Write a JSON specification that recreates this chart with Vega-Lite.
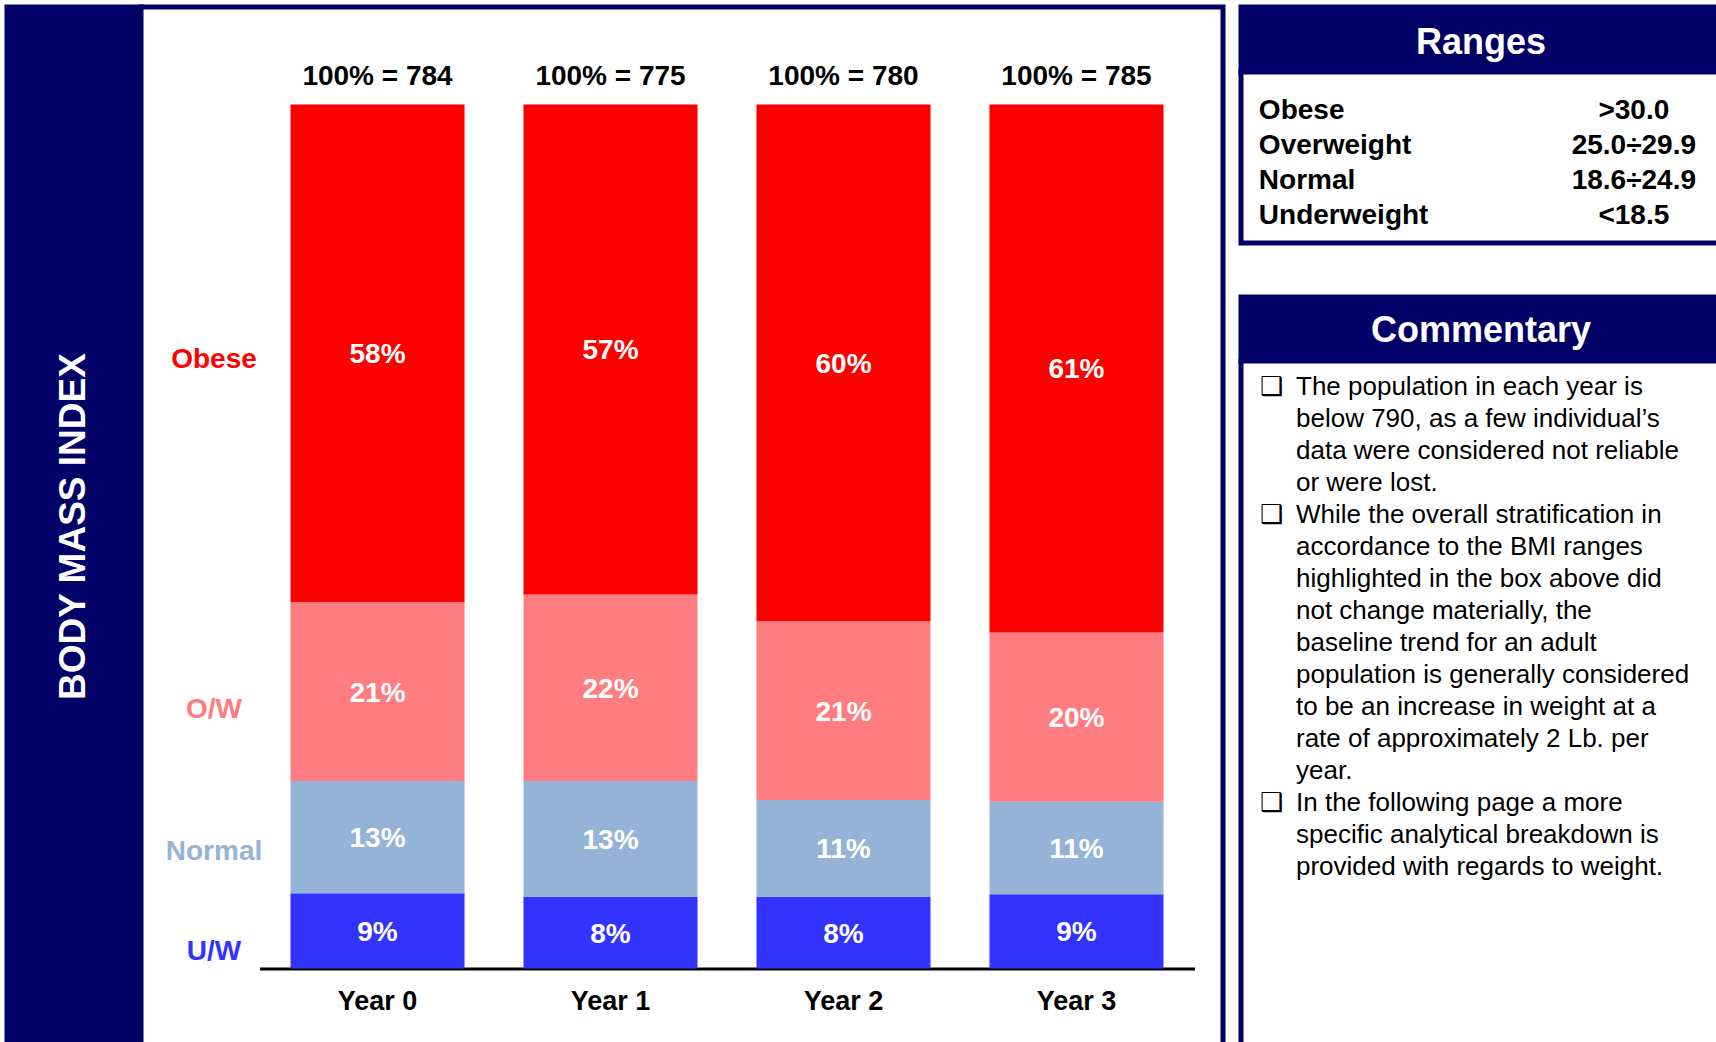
{
  "$schema": "https://vega.github.io/schema/vega-lite/v6.json",
  "background": "white",
  "padding": {"left": 4, "top": 4, "right": 0, "bottom": 0},
  "bounds": "full",
  "spacing": 12,
  "config": {"font": "Liberation Sans", "view": {"stroke": null}},
  "hconcat": [
    {
      "bounds": "flush",
      "spacing": 0,
      "hconcat": [
        {
          "width": 134,
          "height": 1039,
          "view": {"fill": "#000066", "stroke": "#000066", "strokeWidth": 5},
          "data": {"values": [{"title": "BODY MASS INDEX"}]},
          "mark": {"type": "text", "angle": 270, "color": "white", "fontSize": 37, "fontWeight": "bold", "align": "center", "baseline": "middle", "font": "Liberation Sans"},
          "encoding": {"text": {"field": "title", "type": "nominal"}}
        },
        {
          "width": 1082,
          "height": 1039,
          "view": {"fill": "white", "stroke": "#000066", "strokeWidth": 5},
          "data": {"values": [
            {"year": "Year 0", "cat": "U/W", "bmi_min": 0, "share": 0.087},
            {"year": "Year 0", "cat": "Normal", "bmi_min": 18.6, "share": 0.130},
            {"year": "Year 0", "cat": "O/W", "bmi_min": 25.0, "share": 0.207},
            {"year": "Year 0", "cat": "Obese", "bmi_min": 30.0, "share": 0.576},
            {"year": "Year 1", "cat": "U/W", "bmi_min": 0, "share": 0.083},
            {"year": "Year 1", "cat": "Normal", "bmi_min": 18.6, "share": 0.134},
            {"year": "Year 1", "cat": "O/W", "bmi_min": 25.0, "share": 0.216},
            {"year": "Year 1", "cat": "Obese", "bmi_min": 30.0, "share": 0.567},
            {"year": "Year 2", "cat": "U/W", "bmi_min": 0, "share": 0.083},
            {"year": "Year 2", "cat": "Normal", "bmi_min": 18.6, "share": 0.112},
            {"year": "Year 2", "cat": "O/W", "bmi_min": 25.0, "share": 0.207},
            {"year": "Year 2", "cat": "Obese", "bmi_min": 30.0, "share": 0.598},
            {"year": "Year 3", "cat": "U/W", "bmi_min": 0, "share": 0.086},
            {"year": "Year 3", "cat": "Normal", "bmi_min": 18.6, "share": 0.107},
            {"year": "Year 3", "cat": "O/W", "bmi_min": 25.0, "share": 0.196},
            {"year": "Year 3", "cat": "Obese", "bmi_min": 30.0, "share": 0.611}
          ]},
          "encoding": {
            "x": {
              "field": "year", "type": "nominal",
              "scale": {"type": "band", "range": [118.5, 1053.5], "paddingInner": 0.253, "paddingOuter": 0.133},
              "axis": {"orient": "bottom", "offset": -77.5, "title": null, "domainColor": "black", "domainWidth": 3, "ticks": false, "tickSize": 0, "labelAngle": 0, "labelFont": "Liberation Sans", "labelFontSize": 27, "labelFontWeight": "bold", "labelColor": "black", "labelPadding": 33, "labelBaseline": "middle", "labelAlign": "center"}
            }
          },
          "layer": [
            {
              "mark": {"type": "bar"},
              "encoding": {
                "y": {
                  "field": "share", "type": "quantitative", "stack": "zero",
                  "scale": {"domain": [0, 1], "range": [961.5, 97.5], "nice": false, "zero": false},
                  "axis": {
                    "orient": "left", "values": [0.705, 0.3, 0.1355, 0.02],
                    "labelExpr": "datum.value > 0.6 ? 'Obese' : datum.value > 0.2 ? 'O/W' : datum.value > 0.1 ? 'Normal' : 'U/W'",
                    "labelColor": {"condition": [{"test": "datum.value > 0.6", "value": "#FF0000"}, {"test": "datum.value > 0.2", "value": "#FF7C80"}, {"test": "datum.value > 0.1", "value": "#95B3D7"}], "value": "#3333FF"},
                    "labelFont": "Liberation Sans", "labelFontSize": 28, "labelFontWeight": "bold",
                    "labelAlign": "center", "labelBaseline": "middle", "labelPadding": 0,
                    "ticks": false, "tickSize": 0, "domain": false, "grid": false, "title": null,
                    "offset": -72.5, "labelOverlap": false
                  }
                },
                "color": {
                  "field": "cat", "type": "nominal",
                  "scale": {"domain": ["Obese", "O/W", "Normal", "U/W"], "range": ["#FF0000", "#FF7C80", "#95B3D7", "#3333FF"]},
                  "legend": null
                },
                "order": {"field": "bmi_min", "type": "quantitative"}
              }
            },
            {
              "mark": {"type": "text", "color": "white", "fontSize": 28, "fontWeight": "bold", "baseline": "middle", "align": "center", "dy": 2, "font": "Liberation Sans"},
              "encoding": {
                "y": {"field": "share", "type": "quantitative", "stack": "zero", "bandPosition": 0.5},
                "detail": {"field": "cat", "type": "nominal"},
                "order": {"field": "bmi_min", "type": "quantitative"},
                "text": {"field": "share", "type": "quantitative", "format": ".0%"}
              }
            },
            {
              "data": {"values": [
                {"year": "Year 0", "total": 784, "label": "100% = 784"},
                {"year": "Year 1", "total": 775, "label": "100% = 775"},
                {"year": "Year 2", "total": 780, "label": "100% = 780"},
                {"year": "Year 3", "total": 785, "label": "100% = 785"}
              ]},
              "mark": {"type": "text", "color": "black", "fontSize": 28, "fontWeight": "bold", "baseline": "middle", "align": "center", "dy": -27.5, "font": "Liberation Sans"},
              "encoding": {
                "y": {"datum": 1, "type": "quantitative"},
                "text": {"field": "label", "type": "nominal"}
              }
            }
          ]
        }
      ]
    },
    {
      "bounds": "full",
      "spacing": 48,
      "vconcat": [
        {
          "bounds": "flush",
          "spacing": 0,
          "vconcat": [
            {
              "width": 480,
              "height": 65,
              "view": {"fill": "#000066", "stroke": "#000066", "strokeWidth": 5},
              "data": {"values": [{"h": "Ranges"}]},
              "mark": {"type": "text", "color": "white", "fontSize": 36, "fontWeight": "bold", "baseline": "middle", "align": "center", "dy": 3, "font": "Liberation Sans"},
              "encoding": {"text": {"field": "h", "type": "nominal"}}
            },
            {
              "width": 480,
              "height": 171,
              "view": {"fill": "white", "stroke": "#000066", "strokeWidth": 5},
              "data": {"values": [
                {"class": "Obese", "range": ">30.0"},
                {"class": "Overweight", "range": "25.0÷29.9"},
                {"class": "Normal", "range": "18.6÷24.9"},
                {"class": "Underweight", "range": "<18.5"}
              ]},
              "encoding": {
                "y": {"field": "class", "type": "nominal", "sort": null, "scale": {"type": "point", "padding": 0.943, "align": 0.585}, "axis": null}
              },
              "layer": [
                {
                  "mark": {"type": "text", "align": "left", "baseline": "middle", "fontSize": 28, "fontWeight": "bold", "color": "black", "font": "Liberation Sans"},
                  "encoding": {
                    "x": {"datum": "class", "type": "nominal", "scale": {"type": "point", "domain": ["class", "range"], "padding": 0.14, "align": 0.17}, "axis": null},
                    "text": {"field": "class", "type": "nominal"}
                  }
                },
                {
                  "mark": {"type": "text", "align": "center", "baseline": "middle", "fontSize": 28, "fontWeight": "bold", "color": "black", "font": "Liberation Sans"},
                  "encoding": {
                    "x": {"datum": "range", "type": "nominal"},
                    "text": {"field": "range", "type": "nominal"}
                  }
                }
              ]
            }
          ]
        },
        {
          "bounds": "flush",
          "spacing": 0,
          "vconcat": [
            {
              "width": 480,
              "height": 64,
              "view": {"fill": "#000066", "stroke": "#000066", "strokeWidth": 5},
              "data": {"values": [{"h": "Commentary"}]},
              "mark": {"type": "text", "color": "white", "fontSize": 36, "fontWeight": "bold", "baseline": "middle", "align": "center", "dy": 1.5, "font": "Liberation Sans"},
              "encoding": {"text": {"field": "h", "type": "nominal"}}
            },
            {
              "width": 480,
              "height": 686,
              "view": {"fill": "white", "stroke": "#000066", "strokeWidth": 5},
              "data": {"values": [
                {"line": 1, "bullet": "❑", "text": "The population in each year is"},
                {"line": 2, "bullet": "", "text": "below 790, as a few individual’s"},
                {"line": 3, "bullet": "", "text": "data were considered not reliable"},
                {"line": 4, "bullet": "", "text": "or were lost."},
                {"line": 5, "bullet": "❑", "text": "While the overall stratification in"},
                {"line": 6, "bullet": "", "text": "accordance to the BMI ranges"},
                {"line": 7, "bullet": "", "text": "highlighted in the box above did"},
                {"line": 8, "bullet": "", "text": "not change materially, the"},
                {"line": 9, "bullet": "", "text": "baseline trend for an adult"},
                {"line": 10, "bullet": "", "text": "population is generally considered"},
                {"line": 11, "bullet": "", "text": "to be an increase in weight at a"},
                {"line": 12, "bullet": "", "text": "rate of approximately 2 Lb. per"},
                {"line": 13, "bullet": "", "text": "year."},
                {"line": 14, "bullet": "❑", "text": "In the following page a more"},
                {"line": 15, "bullet": "", "text": "specific analytical breakdown is"},
                {"line": 16, "bullet": "", "text": "provided with regards to weight."}
              ]},
              "encoding": {
                "y": {"field": "line", "type": "ordinal", "sort": null, "scale": {"type": "point", "padding": 0, "range": [26, 506]}, "axis": null}
              },
              "layer": [
                {
                  "mark": {"type": "text", "align": "center", "baseline": "middle", "fontSize": 26, "color": "black", "font": "DejaVu Sans"},
                  "encoding": {
                    "x": {"datum": "bullet", "type": "nominal", "scale": {"type": "point", "domain": ["bullet", "text"], "padding": 0, "range": [30.5, 55]}, "axis": null},
                    "text": {"field": "bullet", "type": "nominal"}
                  }
                },
                {
                  "mark": {"type": "text", "align": "left", "baseline": "middle", "fontSize": 26, "color": "black", "font": "Liberation Sans"},
                  "encoding": {
                    "x": {"datum": "text", "type": "nominal"},
                    "text": {"field": "text", "type": "nominal"}
                  }
                }
              ]
            }
          ]
        }
      ]
    }
  ]
}
